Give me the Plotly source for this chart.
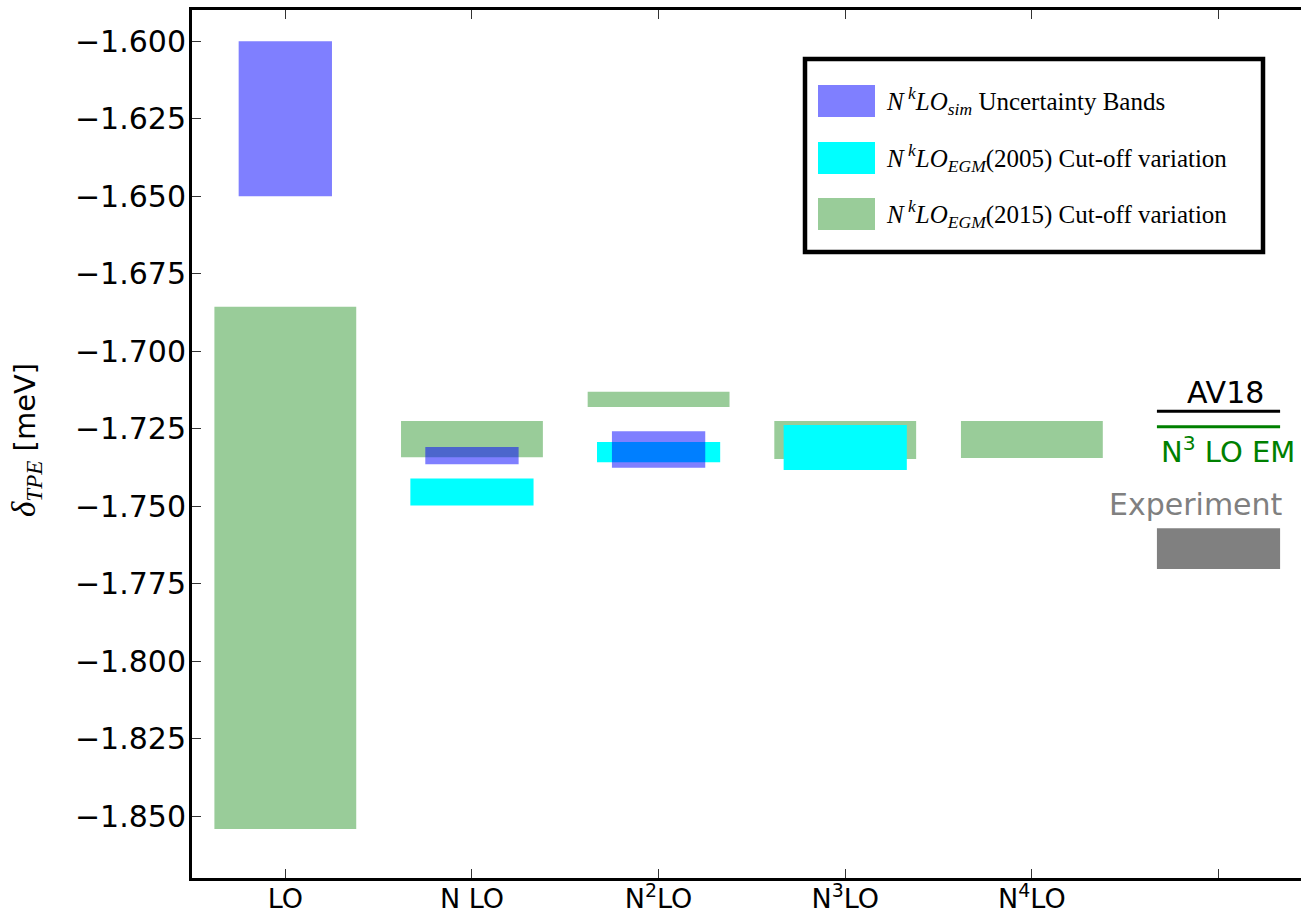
import plotly.graph_objects as go

# ---- data ----
order_labels = ["LO", "N LO", "N<sup>2</sup>LO", "N<sup>3</sup>LO", "N<sup>4</sup>LO", ""]
tick_pos = [0, 1, 2, 3, 4, 5]

sim_x = [0, 1, 2]
sim_low = [-1.650, -1.7365, -1.7376]
sim_high = [-1.600, -1.7309, -1.7258]

egm05_x = [1, 2, 3]
egm05_low = [-1.7498, -1.7358, -1.7383]
egm05_high = [-1.7411, -1.7293, -1.7238]

egm15_x = [0, 1, 2, 3, 4]
egm15_low = [-1.8542, -1.7342, -1.7180, -1.7348, -1.7345]
egm15_high = [-1.6857, -1.7225, -1.7131, -1.7225, -1.7225]

ref_x = 5
av18_value = -1.7194
n3lo_em_value = -1.7244
exp_low = -1.7703
exp_high = -1.7571

y_ticks = [-1.600, -1.625, -1.650, -1.675, -1.700, -1.725, -1.750,
           -1.775, -1.800, -1.825, -1.850]

# ---- styles ----
BLUE = "rgba(0,0,255,0.5)"
CYAN = "#00ffff"
GREEN = "rgb(153,204,153)"
SANS = "DejaVu Sans"
SERIF = "Liberation Serif"

fig = go.Figure()

fig.add_trace(go.Bar(x=egm15_x, base=egm15_low,
                     y=[h - l for h, l in zip(egm15_high, egm15_low)],
                     width=0.76, marker=dict(color=GREEN, line=dict(width=0)),
                     showlegend=False, hoverinfo="skip"))
fig.add_trace(go.Bar(x=egm05_x, base=egm05_low,
                     y=[h - l for h, l in zip(egm05_high, egm05_low)],
                     width=0.66, marker=dict(color=CYAN, line=dict(width=0)),
                     showlegend=False, hoverinfo="skip"))
fig.add_trace(go.Bar(x=sim_x, base=sim_low,
                     y=[h - l for h, l in zip(sim_high, sim_low)],
                     width=0.5, marker=dict(color=BLUE, line=dict(width=0)),
                     showlegend=False, hoverinfo="skip"))
# experiment
fig.add_trace(go.Bar(x=[ref_x], base=[exp_low], y=[exp_high - exp_low],
                     width=0.66, marker=dict(color="#808080", line=dict(width=0)),
                     showlegend=False, hoverinfo="skip"))
# AV18 and N3LO EM lines
fig.add_trace(go.Scatter(x=[ref_x - 0.33, ref_x + 0.33], y=[av18_value] * 2,
                         mode="lines", line=dict(color="black", width=3),
                         showlegend=False, hoverinfo="skip"))
fig.add_trace(go.Scatter(x=[ref_x - 0.33, ref_x + 0.33], y=[n3lo_em_value] * 2,
                         mode="lines", line=dict(color="green", width=3),
                         showlegend=False, hoverinfo="skip"))

fig.update_layout(barmode="overlay")

W, H = 1301, 916
ML, MR, MT, MB = 192, 0, 10, 38
pw, ph = W - ML - MR, H - MT - MB


def px(x):
    return (x - ML) / pw


def py(y):
    return (H - MB - y) / ph


annotations = []
# reference labels
annotations.append(dict(x=ref_x + 0.04, y=av18_value, xref="x", yref="y", yshift=19,
                        text="AV18", showarrow=False,
                        font=dict(family=SANS, size=30, color="black")))
annotations.append(dict(x=ref_x + 0.05, y=n3lo_em_value, xref="x", yref="y", yshift=-23,
                        text="N<sup>3</sup> LO EM", showarrow=False,
                        font=dict(family=SANS, size=29, color="green")))
annotations.append(dict(x=ref_x - 0.12, y=exp_high, xref="x", yref="y", yshift=24,
                        text="Experiment", showarrow=False,
                        font=dict(family=SANS, size=30, color="#808080")))

# y title
annotations.append(dict(x=px(26), y=py(440), xref="paper", yref="paper",
                        xanchor="center", yanchor="middle",
                        text=("<span style='font-family:Liberation Serif;font-size:33px'><i>δ</i>"
                              "<sub><i>TPE</i></sub></span> [meV]"),
                        textangle=-90, showarrow=False,
                        font=dict(family=SANS, size=29, color="black")))

# manual legend
shapes = []
shapes.append(dict(type="rect", xref="paper", yref="paper",
                   x0=px(805), x1=px(1263), y0=py(252), y1=py(59),
                   line=dict(color="black", width=4.5), fillcolor="white", layer="above"))
legend_items = [
    (BLUE, "<i>N</i><sup><i> k</i></sup><i>LO</i><sub><i>sim</i></sub> Uncertainty Bands", 101),
    (CYAN, "<i>N</i><sup><i> k</i></sup><i>LO</i><sub><i>EGM</i></sub>(2005) Cut-off variation", 158),
    (GREEN, "<i>N</i><sup><i> k</i></sup><i>LO</i><sub><i>EGM</i></sub>(2015) Cut-off variation", 214),
]
for col, txt, yc in legend_items:
    shapes.append(dict(type="rect", xref="paper", yref="paper",
                       x0=px(818), x1=px(875), y0=py(yc + 16), y1=py(yc - 16),
                       line=dict(width=0), fillcolor=col, layer="above"))
    annotations.append(dict(x=px(884), y=py(yc), xref="paper", yref="paper",
                            xanchor="left", yanchor="middle", text=txt, showarrow=False,
                            font=dict(family=SERIF, size=25, color="black")))

fig.update_layout(
    width=W, height=H,
    margin=dict(l=ML, r=MR, t=MT, b=MB, autoexpand=False),
    paper_bgcolor="white", plot_bgcolor="white",
    shapes=shapes, annotations=annotations,
    showlegend=False,
    xaxis=dict(range=[-0.5, 5.442], tickmode="array", tickvals=tick_pos,
               ticktext=order_labels, ticks="inside", ticklen=9, tickwidth=1,
               tickcolor="#333", showline=True, linecolor="black", linewidth=3,
               mirror="allticks", showgrid=False, zeroline=False,
               ticklabelstandoff=-5,
               tickfont=dict(family=SANS, size=27, color="black")),
    yaxis=dict(range=[-1.870, -1.5899], tickmode="array",
               tickvals=y_ticks,
               ticktext=["−" + f"{abs(v):.3f}" for v in y_ticks],
               ticks="inside", ticklen=9, tickwidth=1, tickcolor="#333",
               ticklabelstandoff=-3,
               showline=True, linecolor="black", linewidth=3, mirror=False,
               showgrid=False, zeroline=False,
               tickfont=dict(family=SANS, size=30, color="black")),
)

fig.write_html("out.html", config={"displayModeBar": False},
               post_script="document.body.style.margin='0';")
